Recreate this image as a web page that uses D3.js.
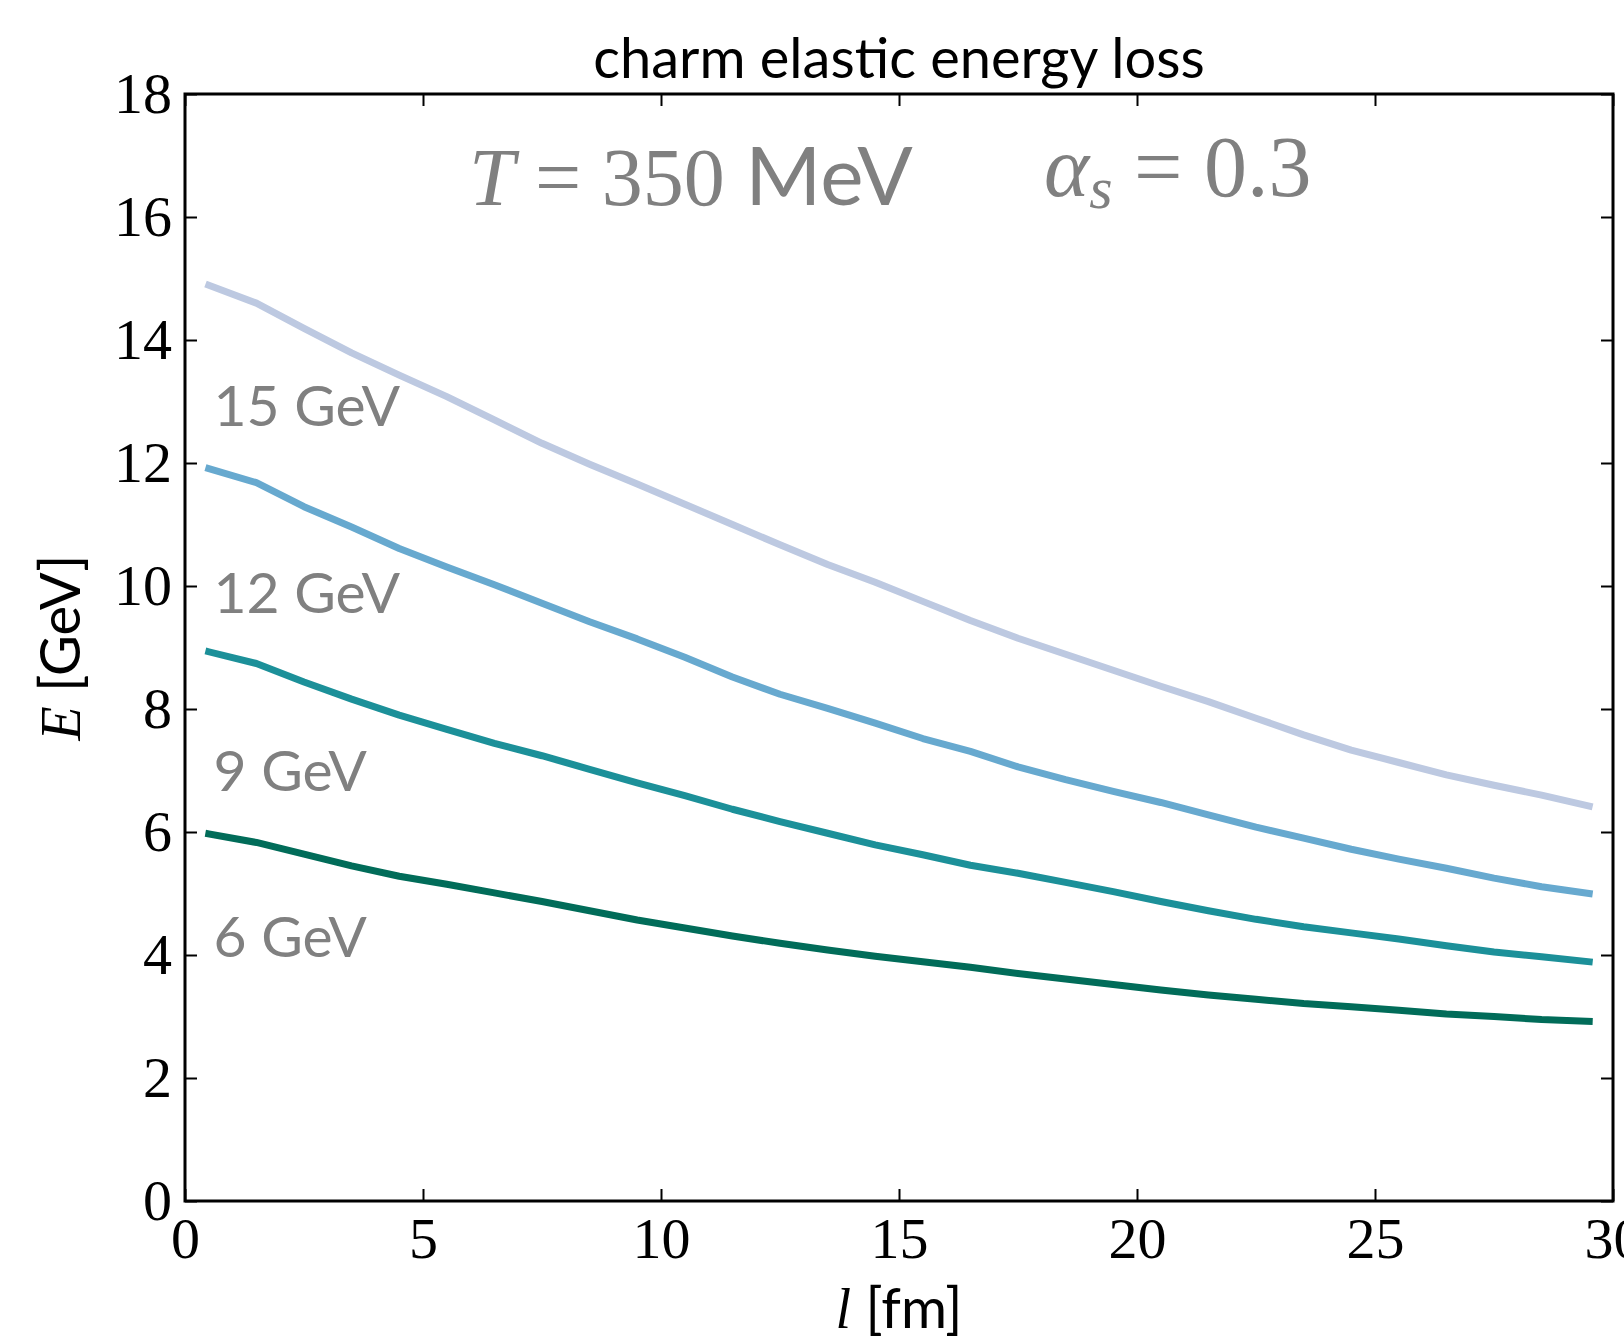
<!DOCTYPE html>
<html>
<head>
<meta charset="utf-8">
<script src="https://cdn.jsdelivr.net/npm/d3@7"></script>
<style>
  body { margin: 0; background: #fff; }
  svg { display: block; }
</style>
</head>
<body>
<svg width="1624" height="1339"></svg>
<script>
// path length l [fm]
const lengths = [0.5, 1.5, 2.5, 3.5, 4.5, 5.5, 6.5, 7.5, 8.5, 9.5,
  10.5, 11.5, 12.5, 13.5, 14.5, 15.5, 16.5, 17.5, 18.5, 19.5,
  20.5, 21.5, 22.5, 23.5, 24.5, 25.5, 26.5, 27.5, 28.5, 29.5];

// remaining energy E [GeV] for each initial energy
const e15 = [14.89, 14.60, 14.19, 13.79, 13.43, 13.08, 12.70, 12.32, 11.98, 11.66,
  11.33, 11.00, 10.67, 10.35, 10.06, 9.75, 9.44, 9.15, 8.89, 8.63,
  8.37, 8.12, 7.85, 7.58, 7.33, 7.13, 6.93, 6.76, 6.60, 6.42];
const e12 = [11.91, 11.68, 11.29, 10.96, 10.61, 10.31, 10.02, 9.72, 9.42, 9.14,
  8.84, 8.52, 8.24, 8.01, 7.77, 7.52, 7.31, 7.06, 6.85, 6.66,
  6.48, 6.28, 6.08, 5.90, 5.72, 5.56, 5.41, 5.25, 5.11, 5.00];
const e9 = [8.93, 8.74, 8.44, 8.16, 7.90, 7.67, 7.44, 7.24, 7.02, 6.80,
  6.59, 6.37, 6.17, 5.98, 5.79, 5.63, 5.46, 5.33, 5.18, 5.03,
  4.87, 4.72, 4.58, 4.46, 4.36, 4.26, 4.15, 4.05, 3.97, 3.89];
const e6 = [5.97, 5.83, 5.64, 5.45, 5.28, 5.15, 5.01, 4.87, 4.72, 4.57,
  4.44, 4.31, 4.19, 4.08, 3.98, 3.89, 3.80, 3.70, 3.61, 3.52,
  3.43, 3.35, 3.28, 3.21, 3.16, 3.10, 3.04, 3.00, 2.95, 2.92];

const seriesNames = ["15 GeV", "12 GeV", "9 GeV", "6 GeV"];
const seriesValues = [e15, e12, e9, e6];
const seriesColors = ["#bdc9e1", "#67a9cf", "#1c9099", "#016c59"];
// where the "xx GeV" labels sit, in data units
const labelL = [0.6, 0.6, 0.6, 0.6];
const labelE = [12.60, 9.56, 6.66, 3.97];

const xTicks = [0, 5, 10, 15, 20, 25, 30];
const yTicks = [0, 2, 4, 6, 8, 10, 12, 14, 16, 18];

const serif = "'Liberation Serif', 'DejaVu Serif', serif";
const sans = "Lato, 'Open Sans', sans-serif";

const svg = d3.select("svg");
const width = +svg.attr("width");
const height = +svg.attr("height");

svg.append("rect").attr("width", width).attr("height", height).attr("fill", "#fff");

const margin = { left: 185, right: 11, top: 94, bottom: 138 };

const x = d3.scaleLinear()
  .domain([0, 30])
  .range([margin.left, width - margin.right]);

const y = d3.scaleLinear()
  .domain([0, 18])
  .range([height - margin.bottom, margin.top]);

// lines
const line = d3.line()
  .x(d => x(d[0]))
  .y(d => y(d[1]));

svg.append("g")
  .selectAll("path")
  .data(seriesValues)
  .join("path")
  .attr("d", vals => line(vals.map((v, i) => [lengths[i], v])))
  .attr("fill", "none")
  .attr("stroke", (d, i) => seriesColors[i])
  .attr("stroke-width", 7)
  .attr("stroke-linecap", "square")
  .attr("stroke-linejoin", "round");

// axes, ticks pointing inwards on all four sides
const styleAxis = g => {
  g.select(".domain").remove();
  g.selectAll(".tick line").attr("stroke", "#000").attr("stroke-width", 2);
  g.selectAll(".tick text")
    .attr("fill", "#000")
    .style("font-family", serif)
    .style("font-size", "58px");
};

svg.append("g")
  .attr("transform", `translate(0,${y(0)})`)
  .call(d3.axisBottom(x).tickValues(xTicks).tickSize(-12).tickPadding(16).tickFormat(d3.format("d")))
  .call(styleAxis);

svg.append("g")
  .attr("transform", `translate(0,${y(18)})`)
  .call(d3.axisTop(x).tickValues(xTicks).tickSize(-12).tickFormat(""))
  .call(styleAxis);

svg.append("g")
  .attr("transform", `translate(${x(0)},0)`)
  .call(d3.axisLeft(y).tickValues(yTicks).tickSize(-12).tickPadding(13).tickFormat(d3.format("d")))
  .call(styleAxis);

svg.append("g")
  .attr("transform", `translate(${x(30)},0)`)
  .call(d3.axisRight(y).tickValues(yTicks).tickSize(-12).tickFormat(""))
  .call(styleAxis);

// frame
svg.append("rect")
  .attr("x", x(0))
  .attr("y", y(18))
  .attr("width", x(30) - x(0))
  .attr("height", y(0) - y(18))
  .attr("fill", "none")
  .attr("stroke", "#000")
  .attr("stroke-width", 3);

// series labels
svg.append("g")
  .selectAll("text")
  .data(seriesNames)
  .join("text")
  .attr("x", (d, i) => x(labelL[i]))
  .attr("y", (d, i) => y(labelE[i]))
  .attr("fill", "gray")
  .style("font-family", sans)
  .style("font-size", "57px")
  .text(d => d);

// title
svg.append("text")
  .attr("x", (x(0) + x(30)) / 2)
  .attr("y", 78)
  .attr("text-anchor", "middle")
  .attr("fill", "#000")
  .style("font-family", sans)
  .style("font-size", "56px")
  .text("charm elastic energy loss");

// T = 350 MeV
const tText = svg.append("text")
  .attr("x", 469)
  .attr("y", 205)
  .attr("fill", "gray")
  .style("font-size", "82px");
tText.append("tspan").style("font-family", serif).style("font-style", "italic").text("T");
tText.append("tspan").style("font-family", serif).text(" = 350 ");
tText.append("tspan").style("font-family", sans).text("MeV");

// alpha_s = 0.3
const aText = svg.append("text")
  .attr("x", 1044)
  .attr("y", 196)
  .attr("fill", "gray")
  .style("font-family", serif)
  .style("font-size", "86px");
aText.append("tspan").style("font-style", "italic").text("α");
aText.append("tspan").style("font-style", "italic").style("font-size", "60px").attr("dy", 12).text("s");
aText.append("tspan").attr("dy", -12).text(" = 0.3");

// axis labels
const yLab = svg.append("text")
  .attr("transform", `translate(80,${(y(0) + y(18)) / 2}) rotate(-90)`)
  .attr("text-anchor", "middle")
  .attr("fill", "#000")
  .style("font-size", "56px");
yLab.append("tspan").style("font-family", serif).style("font-style", "italic").text("E");
yLab.append("tspan").style("font-family", sans).text(" [GeV]");

const xLab = svg.append("text")
  .attr("x", (x(0) + x(30)) / 2)
  .attr("y", 1328)
  .attr("text-anchor", "middle")
  .attr("fill", "#000")
  .style("font-size", "56px");
xLab.append("tspan").style("font-family", serif).style("font-style", "italic").text("l");
xLab.append("tspan").style("font-family", sans).text(" [fm]");
</script>
</body>
</html>
